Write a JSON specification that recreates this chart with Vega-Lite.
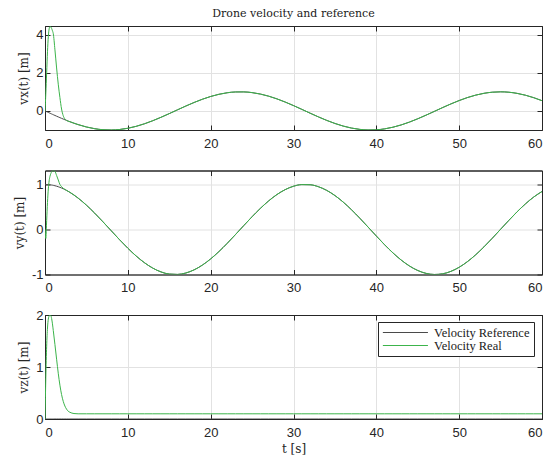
{
  "$schema": "https://vega.github.io/schema/vega-lite/v6.json",
  "padding": {"left": 12, "top": 7, "right": 6, "bottom": 6},
  "datasets": {
    "d": [
      {"t":0,"xr":0,"xg":0,"yr":1,"yg":0,"zr":0,"zg":0},
      {"t":0.1,"xr":-0.02,"xg":0.9,"yr":0.9998,"yg":-0.2,"zr":0,"zg":0.8},
      {"t":0.2,"xr":-0.04,"xg":2.0,"yr":0.9992,"yg":0.2,"zr":0,"zg":1.4},
      {"t":0.3,"xr":-0.06,"xg":3.1,"yr":0.9982,"yg":0.6,"zr":0,"zg":1.75},
      {"t":0.4,"xr":-0.0799,"xg":3.9,"yr":0.9968,"yg":0.9,"zr":0,"zg":1.92},
      {"t":0.5,"xr":-0.0998,"xg":4.3,"yr":0.995,"yg":1.08,"zr":0,"zg":1.98},
      {"t":0.6,"xr":-0.1196,"xg":4.42,"yr":0.9928,"yg":1.18,"zr":0,"zg":2.0},
      {"t":0.7,"xr":-0.1395,"xg":4.4,"yr":0.9902,"yg":1.24,"zr":0,"zg":1.99},
      {"t":0.8,"xr":-0.1593,"xg":4.32,"yr":0.9872,"yg":1.28,"zr":0,"zg":1.93},
      {"t":0.9,"xr":-0.179,"xg":4.2,"yr":0.9838,"yg":1.3,"zr":0,"zg":1.83},
      {"t":1.0,"xr":-0.1987,"xg":4.05,"yr":0.9801,"yg":1.31,"zr":0,"zg":1.7},
      {"t":1.2,"xr":-0.2377,"xg":3.2,"yr":0.9713,"yg":1.29,"zr":0,"zg":1.43},
      {"t":1.4,"xr":-0.2764,"xg":2.25,"yr":0.961,"yg":1.2,"zr":0,"zg":1.15},
      {"t":1.6,"xr":-0.3146,"xg":1.4,"yr":0.9492,"yg":1.1,"zr":0,"zg":0.88},
      {"t":1.8,"xr":-0.3523,"xg":0.7,"yr":0.9359,"yg":1.0,"zr":0,"zg":0.65},
      {"t":2.0,"xr":-0.3894,"xg":0.1,"yr":0.9211,"yg":0.95,"zr":0,"zg":0.47},
      {"t":2.2,"xr":-0.4259,"xg":-0.25,"yr":0.9048,"yg":0.915,"zr":0,"zg":0.34},
      {"t":2.4,"xr":-0.4618,"xg":-0.42,"yr":0.887,"yg":0.89,"zr":0,"zg":0.25},
      {"t":2.6,"xr":-0.4969,"xg":-0.5,"yr":0.8678,"yg":0.868,"zr":0,"zg":0.19},
      {"t":2.8,"xr":-0.5312,"xg":-0.54,"yr":0.8473,"yg":0.847,"zr":0,"zg":0.15},
      {"t":3.0,"xr":-0.5646,"xg":-0.565,"yr":0.8253,"yg":0.825,"zr":0,"zg":0.13},
      {"t":3.5,"xr":-0.6442,"xg":-0.644,"yr":0.7648,"yg":0.765,"zr":0,"zg":0.105},
      {"t":4,"xr":-0.7174,"xg":-0.7174,"yr":0.6967,"yg":0.6967,"zr":0,"zg":0.1},
      {"t":5,"xr":-0.8415,"xg":-0.8415,"yr":0.5403,"yg":0.5403,"zr":0,"zg":0.1},
      {"t":6,"xr":-0.932,"xg":-0.932,"yr":0.3624,"yg":0.3624,"zr":0,"zg":0.1},
      {"t":7,"xr":-0.9854,"xg":-0.9854,"yr":0.17,"yg":0.17,"zr":0,"zg":0.1},
      {"t":8,"xr":-0.9996,"xg":-0.9996,"yr":-0.0292,"yg":-0.0292,"zr":0,"zg":0.1},
      {"t":9,"xr":-0.9738,"xg":-0.9738,"yr":-0.2272,"yg":-0.2272,"zr":0,"zg":0.1},
      {"t":10,"xr":-0.9093,"xg":-0.9093,"yr":-0.4161,"yg":-0.4161,"zr":0,"zg":0.1},
      {"t":11,"xr":-0.8085,"xg":-0.8085,"yr":-0.5885,"yg":-0.5885,"zr":0,"zg":0.1},
      {"t":12,"xr":-0.6755,"xg":-0.6755,"yr":-0.7374,"yg":-0.7374,"zr":0,"zg":0.1},
      {"t":13,"xr":-0.5155,"xg":-0.5155,"yr":-0.8569,"yg":-0.8569,"zr":0,"zg":0.1},
      {"t":14,"xr":-0.335,"xg":-0.335,"yr":-0.9422,"yg":-0.9422,"zr":0,"zg":0.1},
      {"t":15,"xr":-0.1411,"xg":-0.1411,"yr":-0.99,"yg":-0.99,"zr":0,"zg":0.1},
      {"t":16,"xr":0.0584,"xg":0.0584,"yr":-0.9983,"yg":-0.9983,"zr":0,"zg":0.1},
      {"t":17,"xr":0.2555,"xg":0.2555,"yr":-0.9668,"yg":-0.9668,"zr":0,"zg":0.1},
      {"t":18,"xr":0.4425,"xg":0.4425,"yr":-0.8968,"yg":-0.8968,"zr":0,"zg":0.1},
      {"t":19,"xr":0.6119,"xg":0.6119,"yr":-0.791,"yg":-0.791,"zr":0,"zg":0.1},
      {"t":20,"xr":0.7568,"xg":0.7568,"yr":-0.6536,"yg":-0.6536,"zr":0,"zg":0.1},
      {"t":21,"xr":0.8716,"xg":0.8716,"yr":-0.4903,"yg":-0.4903,"zr":0,"zg":0.1},
      {"t":22,"xr":0.9516,"xg":0.9516,"yr":-0.3073,"yg":-0.3073,"zr":0,"zg":0.1},
      {"t":23,"xr":0.9937,"xg":0.9937,"yr":-0.1122,"yg":-0.1122,"zr":0,"zg":0.1},
      {"t":24,"xr":0.9962,"xg":0.9962,"yr":0.0875,"yg":0.0875,"zr":0,"zg":0.1},
      {"t":25,"xr":0.9589,"xg":0.9589,"yr":0.2837,"yg":0.2837,"zr":0,"zg":0.1},
      {"t":26,"xr":0.8835,"xg":0.8835,"yr":0.4685,"yg":0.4685,"zr":0,"zg":0.1},
      {"t":27,"xr":0.7728,"xg":0.7728,"yr":0.6347,"yg":0.6347,"zr":0,"zg":0.1},
      {"t":28,"xr":0.6313,"xg":0.6313,"yr":0.7756,"yg":0.7756,"zr":0,"zg":0.1},
      {"t":29,"xr":0.4646,"xg":0.4646,"yr":0.8855,"yg":0.8855,"zr":0,"zg":0.1},
      {"t":30,"xr":0.2794,"xg":0.2794,"yr":0.9602,"yg":0.9602,"zr":0,"zg":0.1},
      {"t":31,"xr":0.0831,"xg":0.0831,"yr":0.9965,"yg":0.9965,"zr":0,"zg":0.1},
      {"t":32,"xr":-0.1165,"xg":-0.1165,"yr":0.9932,"yg":0.9932,"zr":0,"zg":0.1},
      {"t":33,"xr":-0.3115,"xg":-0.3115,"yr":0.9502,"yg":0.9502,"zr":0,"zg":0.1},
      {"t":34,"xr":-0.4941,"xg":-0.4941,"yr":0.8694,"yg":0.8694,"zr":0,"zg":0.1},
      {"t":35,"xr":-0.657,"xg":-0.657,"yr":0.7539,"yg":0.7539,"zr":0,"zg":0.1},
      {"t":36,"xr":-0.7937,"xg":-0.7937,"yr":0.6084,"yg":0.6084,"zr":0,"zg":0.1},
      {"t":37,"xr":-0.8987,"xg":-0.8987,"yr":0.4385,"yg":0.4385,"zr":0,"zg":0.1},
      {"t":38,"xr":-0.9679,"xg":-0.9679,"yr":0.2513,"yg":0.2513,"zr":0,"zg":0.1},
      {"t":39,"xr":-0.9985,"xg":-0.9985,"yr":0.054,"yg":0.054,"zr":0,"zg":0.1},
      {"t":40,"xr":-0.9894,"xg":-0.9894,"yr":-0.1455,"yg":-0.1455,"zr":0,"zg":0.1},
      {"t":41,"xr":-0.9407,"xg":-0.9407,"yr":-0.3392,"yg":-0.3392,"zr":0,"zg":0.1},
      {"t":42,"xr":-0.8546,"xg":-0.8546,"yr":-0.5193,"yg":-0.5193,"zr":0,"zg":0.1},
      {"t":43,"xr":-0.7344,"xg":-0.7344,"yr":-0.6787,"yg":-0.6787,"zr":0,"zg":0.1},
      {"t":44,"xr":-0.5849,"xg":-0.5849,"yr":-0.8111,"yg":-0.8111,"zr":0,"zg":0.1},
      {"t":45,"xr":-0.4121,"xg":-0.4121,"yr":-0.9111,"yg":-0.9111,"zr":0,"zg":0.1},
      {"t":46,"xr":-0.2229,"xg":-0.2229,"yr":-0.9748,"yg":-0.9748,"zr":0,"zg":0.1},
      {"t":47,"xr":-0.0248,"xg":-0.0248,"yr":-0.9997,"yg":-0.9997,"zr":0,"zg":0.1},
      {"t":48,"xr":0.1743,"xg":0.1743,"yr":-0.9847,"yg":-0.9847,"zr":0,"zg":0.1},
      {"t":49,"xr":0.3665,"xg":0.3665,"yr":-0.9304,"yg":-0.9304,"zr":0,"zg":0.1},
      {"t":50,"xr":0.544,"xg":0.544,"yr":-0.8391,"yg":-0.8391,"zr":0,"zg":0.1},
      {"t":51,"xr":0.6999,"xg":0.6999,"yr":-0.7143,"yg":-0.7143,"zr":0,"zg":0.1},
      {"t":52,"xr":0.8278,"xg":0.8278,"yr":-0.561,"yg":-0.561,"zr":0,"zg":0.1},
      {"t":53,"xr":0.9228,"xg":0.9228,"yr":-0.3853,"yg":-0.3853,"zr":0,"zg":0.1},
      {"t":54,"xr":0.9809,"xg":0.9809,"yr":-0.1943,"yg":-0.1943,"zr":0,"zg":0.1},
      {"t":55,"xr":1.0,"xg":1.0,"yr":0.0044,"yg":0.0044,"zr":0,"zg":0.1},
      {"t":56,"xr":0.9792,"xg":0.9792,"yr":0.203,"yg":0.203,"zr":0,"zg":0.1},
      {"t":57,"xr":0.9193,"xg":0.9193,"yr":0.3935,"yg":0.3935,"zr":0,"zg":0.1},
      {"t":58,"xr":0.8228,"xg":0.8228,"yr":0.5683,"yg":0.5683,"zr":0,"zg":0.1},
      {"t":59,"xr":0.6935,"xg":0.6935,"yr":0.7204,"yg":0.7204,"zr":0,"zg":0.1},
      {"t":60,"xr":0.5366,"xg":0.5366,"yr":0.8439,"yg":0.8439,"zr":0,"zg":0.1}
    ]
  },
  "data": {"name": "d"},
  "spacing": 40.5,
  "bounds": "flush",
  "resolve": {"scale": {"color": "independent"}},
  "vconcat": [
    {
      "width": 497, "height": 104,
      "title": {"text": "Drone velocity and reference"},
      "layer": [
        {"mark": {"type": "line", "strokeWidth": 1, "interpolate": "monotone", "clip": true},
         "encoding": {
           "x": {"field": "t", "type": "quantitative", "scale": {"domain": [0, 60], "nice": false}, "axis": {"orient": "bottom", "values": [0,10,20,30,40,50,60], "title": null}},
           "y": {"field": "xr", "type": "quantitative", "scale": {"domain": [-1, 4.45], "nice": false, "zero": false}, "axis": {"orient": "left", "values": [0,2,4], "format": "d", "title": "vx(t) [m]"}},
           "color": {"datum": "Velocity Reference", "scale": {"domain": ["Velocity Reference","Velocity Real"], "range": ["#4a4a4a","#3cb44b"]}, "legend": null}}},
        {"mark": {"type": "line", "strokeWidth": 1, "interpolate": "monotone", "clip": true},
         "encoding": {
           "x": {"field": "t", "type": "quantitative", "axis": {"orient": "top", "values": [0,10,20,30,40,50,60], "labels": false, "grid": false, "title": null}},
           "y": {"field": "xg", "type": "quantitative", "axis": {"orient": "right", "values": [0,2,4], "labels": false, "grid": false, "title": null}},
           "color": {"datum": "Velocity Real"}}}
      ]
    },
    {
      "width": 497, "height": 104,
      "layer": [
        {"mark": {"type": "line", "strokeWidth": 1, "interpolate": "monotone", "clip": true},
         "encoding": {
           "x": {"field": "t", "type": "quantitative", "scale": {"domain": [0, 60], "nice": false}, "axis": {"orient": "bottom", "values": [0,10,20,30,40,50,60], "title": null}},
           "y": {"field": "yr", "type": "quantitative", "scale": {"domain": [-1, 1.31], "nice": false, "zero": false}, "axis": {"orient": "left", "values": [-1,0,1], "title": "vy(t) [m]", "labelExpr": "datum.value < 0 ? '-' + abs(datum.value) : datum.label"}},
           "color": {"datum": "Velocity Reference", "scale": {"domain": ["Velocity Reference","Velocity Real"], "range": ["#4a4a4a","#3cb44b"]}, "legend": null}}},
        {"mark": {"type": "line", "strokeWidth": 1, "interpolate": "monotone", "clip": true},
         "encoding": {
           "x": {"field": "t", "type": "quantitative", "axis": {"orient": "top", "values": [0,10,20,30,40,50,60], "labels": false, "grid": false, "title": null}},
           "y": {"field": "yg", "type": "quantitative", "axis": {"orient": "right", "values": [-1,0,1], "labels": false, "grid": false, "title": null}},
           "color": {"datum": "Velocity Real"}}}
      ]
    },
    {
      "width": 497, "height": 104,
      "layer": [
        {"mark": {"type": "line", "strokeWidth": 1, "interpolate": "monotone", "clip": true},
         "encoding": {
           "x": {"field": "t", "type": "quantitative", "scale": {"domain": [0, 60], "nice": false}, "axis": {"orient": "bottom", "values": [0,10,20,30,40,50,60], "title": "t [s]"}},
           "y": {"field": "zr", "type": "quantitative", "scale": {"domain": [0, 2], "nice": false, "zero": false}, "axis": {"orient": "left", "tickCount": 2, "title": "vz(t) [m]"}},
           "color": {"datum": "Velocity Reference", "scale": {"domain": ["Velocity Reference","Velocity Real"], "range": ["#4a4a4a","#3cb44b"]},
                     "legend": {"orient": "none", "legendX": 333, "legendY": 7, "title": null}}}},
        {"mark": {"type": "line", "strokeWidth": 1, "interpolate": "monotone", "clip": true},
         "encoding": {
           "x": {"field": "t", "type": "quantitative", "axis": {"orient": "top", "values": [0,10,20,30,40,50,60], "labels": false, "grid": false, "title": null}},
           "y": {"field": "zg", "type": "quantitative", "axis": {"orient": "right", "tickCount": 2, "labels": false, "grid": false, "title": null}},
           "color": {"datum": "Velocity Real"}}}
      ]
    }
  ],
  "config": {
    "view": {"stroke": "#262626", "strokeWidth": 1},
    "axis": {
      "labelFont": "Liberation Sans", "labelFontSize": 13, "labelColor": "#262626",
      "titleFont": "DejaVu Serif", "titleFontSize": 12, "titleFontWeight": "normal", "titleColor": "#262626",
      "gridColor": "#e2e2e2", "grid": true, "domain": true, "domainColor": "#262626", "domainWidth": 1,
      "tickColor": "#262626", "tickSize": -5, "labelPadding": 7, "titlePadding": 5
    },
    "axisX": {"labelPadding": 12, "titlePadding": 4},
    "title": {"font": "DejaVu Serif", "fontSize": 11, "fontWeight": "normal", "color": "#1a1a1a", "anchor": "middle", "offset": 7},
    "legend": {
      "labelFont": "Liberation Serif", "labelFontSize": 12.5, "labelColor": "#1a1a1a",
      "strokeColor": "#262626", "fillColor": "white", "padding": 4, "cornerRadius": 0,
      "symbolType": "M-1,0H7", "symbolSize": 127, "symbolStrokeWidth": 1, "labelOffset": 39, "rowPadding": -5
    }
  }
}
